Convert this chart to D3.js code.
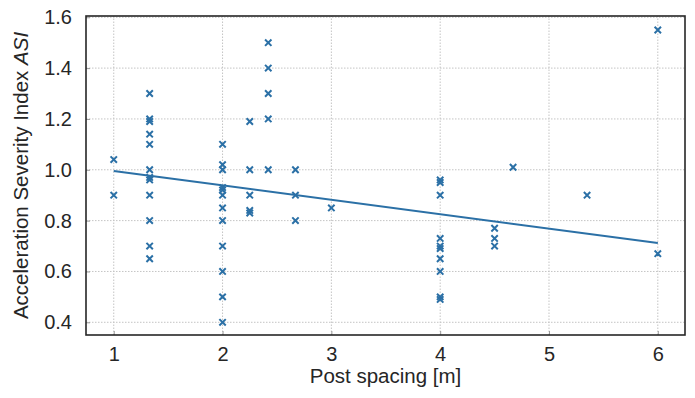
<!DOCTYPE html>
<html>
<head>
<meta charset="utf-8">
<script src="https://cdn.jsdelivr.net/npm/d3@7"></script>
<style>
  body { margin: 0; background: #fff; }
  text { font-family: "Liberation Sans", Arial, sans-serif; fill: #262626; }
</style>
</head>
<body>
<div id="chart"></div>
<script>
// post spacing [m] for each measurement
var spacing = [
  1, 1,
  1.33, 1.33, 1.33, 1.33, 1.33, 1.33, 1.33, 1.33, 1.33, 1.33, 1.33, 1.33,
  2, 2, 2, 2, 2, 2, 2, 2, 2, 2, 2, 2,
  2.25, 2.25, 2.25, 2.25, 2.25,
  2.42, 2.42, 2.42, 2.42, 2.42,
  2.67, 2.67, 2.67,
  3,
  4, 4, 4, 4, 4, 4, 4, 4, 4, 4,
  4.5, 4.5, 4.5,
  4.67,
  5.35,
  6, 6
];
// acceleration severity index ASI
var asi = [
  1.04, 0.90,
  1.30, 1.20, 1.19, 1.14, 1.10, 1.00, 0.97, 0.96, 0.90, 0.80, 0.70, 0.65,
  1.10, 1.02, 1.00, 0.93, 0.92, 0.90, 0.85, 0.80, 0.70, 0.60, 0.50, 0.40,
  1.19, 1.00, 0.90, 0.84, 0.83,
  1.50, 1.40, 1.30, 1.20, 1.00,
  1.00, 0.90, 0.80,
  0.85,
  0.96, 0.95, 0.90, 0.73, 0.70, 0.69, 0.65, 0.60, 0.50, 0.49,
  0.77, 0.73, 0.70,
  1.01,
  0.90,
  1.55, 0.67
];
// linear fit, end points
var fitX = [1, 6];
var fitY = [0.995, 0.712];

var xTicks = [1, 2, 3, 4, 5, 6];
var yTicks = [0.4, 0.6, 0.8, 1.0, 1.2, 1.4, 1.6];

var width = 695, height = 398;
var margin = { top: 16, right: 10, bottom: 63, left: 86 };
var blue = '#2b70a6';

var svg = d3.select('#chart')
  .append('svg')
  .attr('width', width)
  .attr('height', height);

var x = d3.scaleLinear()
  .domain([0.745, 6.25])
  .range([margin.left, width - margin.right]);

var y = d3.scaleLinear()
  .domain([0.35, 1.605])
  .range([height - margin.bottom, margin.top]);

// grid
svg.append('g')
  .selectAll('line.vgrid')
  .data(xTicks)
  .enter().append('line')
  .attr('class', 'vgrid')
  .attr('x1', d => x(d)).attr('x2', d => x(d))
  .attr('y1', y.range()[0]).attr('y2', y.range()[1])
  .style('stroke', '#c4c4c4')
  .style('stroke-dasharray', '1.5,1.5');

svg.append('g')
  .selectAll('line.hgrid')
  .data(yTicks)
  .enter().append('line')
  .attr('class', 'hgrid')
  .attr('x1', x.range()[0]).attr('x2', x.range()[1])
  .attr('y1', d => y(d)).attr('y2', d => y(d))
  .style('stroke', '#c4c4c4')
  .style('stroke-dasharray', '1.5,1.5');

// axes with inward ticks
var xAxis = svg.append('g')
  .attr('transform', 'translate(0,' + y.range()[0] + ')')
  .call(d3.axisBottom(x).tickValues(xTicks).tickSize(-4).tickPadding(11.5).tickFormat(d3.format('d')));

var yAxis = svg.append('g')
  .attr('transform', 'translate(' + x.range()[0] + ',0)')
  .call(d3.axisLeft(y).tickValues(yTicks).tickSize(-4).tickPadding(14).tickFormat(d3.format('.1f')));

[xAxis, yAxis].forEach(function(a) {
  a.select('.domain').remove();
  a.selectAll('.tick line').style('stroke', '#9a9a9a');
  a.selectAll('.tick text')
    .style('font-size', '20px')
    .style('font-family', '"Liberation Sans", Arial, sans-serif')
    .style('fill', '#262626');
});

// frame
svg.append('rect')
  .attr('x', x.range()[0])
  .attr('y', y.range()[1])
  .attr('width', x.range()[1] - x.range()[0])
  .attr('height', y.range()[0] - y.range()[1])
  .style('fill', 'none')
  .style('stroke', '#262626')
  .style('stroke-width', 1.6);

// fit line
var fit = fitX.map((d, i) => [d, fitY[i]]);
svg.append('path')
  .datum(fit)
  .attr('d', d3.line().x(d => x(d[0])).y(d => y(d[1])))
  .style('fill', 'none')
  .style('stroke', blue)
  .style('stroke-width', 2);

// x markers
var pts = spacing.map((d, i) => ({ s: d, v: asi[i] }));
var r = 3.2;
svg.append('g')
  .selectAll('path.pt')
  .data(pts)
  .enter().append('path')
  .attr('class', 'pt')
  .attr('d', d => {
    var cx = x(d.s), cy = y(d.v);
    return 'M' + (cx - r) + ',' + (cy - r) + 'L' + (cx + r) + ',' + (cy + r) +
      'M' + (cx - r) + ',' + (cy + r) + 'L' + (cx + r) + ',' + (cy - r);
  })
  .style('stroke', blue)
  .style('stroke-width', 2)
  .style('fill', 'none');

// axis labels
svg.append('text')
  .attr('x', (x.range()[0] + x.range()[1]) / 2)
  .attr('y', 383)
  .attr('text-anchor', 'middle')
  .style('font-size', '20.5px')
  .text('Post spacing [m]');

var yl = svg.append('text')
  .attr('transform', 'translate(28,' + (y.range()[0] + y.range()[1]) / 2 + ') rotate(-90)')
  .attr('text-anchor', 'middle')
  .style('font-size', '20.5px');
yl.append('tspan').text('Acceleration Severity Index ');
yl.append('tspan').style('font-style', 'italic').text('ASI');
</script>
</body>
</html>
